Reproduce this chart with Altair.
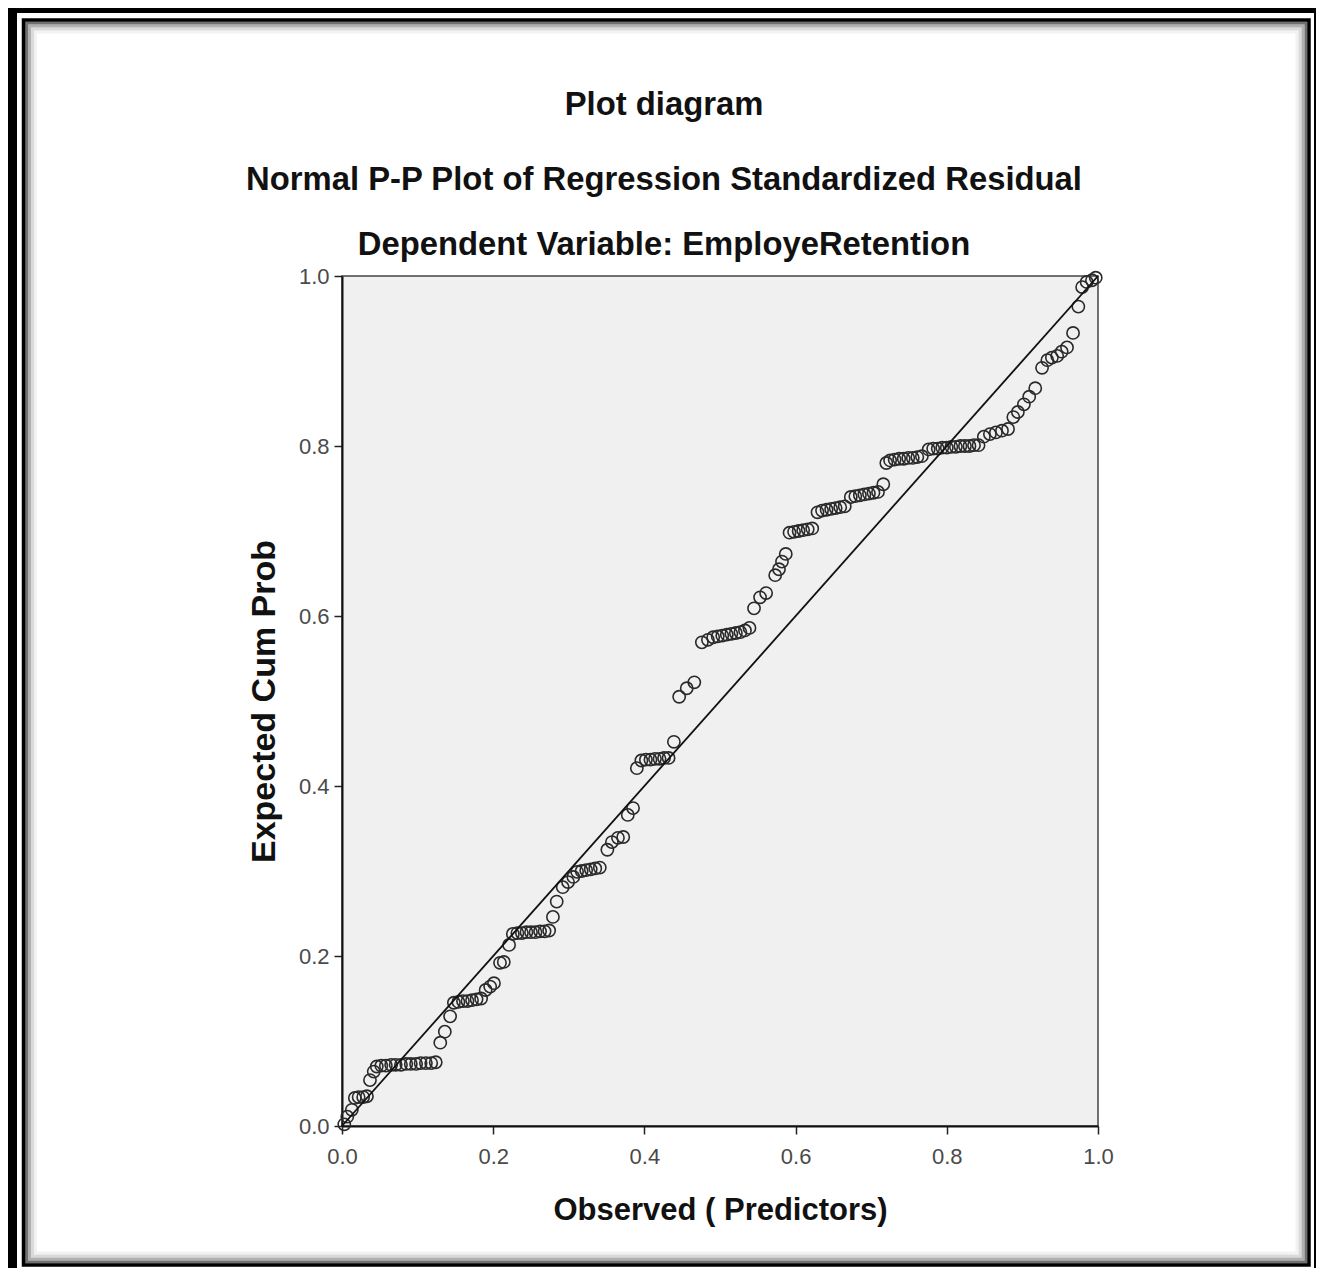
import altair as alt
import pandas as pd

# ---- data ----
observed = [
    0.003, 0.007, 0.013, 0.017, 0.022, 0.028, 0.033, 0.037, 0.042,
    0.046, 0.052, 0.058, 0.065, 0.071, 0.078, 0.085, 0.091, 0.098, 0.104, 0.111, 0.118, 0.124,
    0.130, 0.136, 0.143,
    0.148, 0.154, 0.160, 0.166, 0.172, 0.178, 0.184,
    0.190, 0.196, 0.201, 0.209, 0.214, 0.221,
    0.226, 0.232, 0.238, 0.244, 0.250, 0.256, 0.262, 0.268, 0.274,
    0.279, 0.284, 0.292, 0.299, 0.306,
    0.311, 0.317, 0.323, 0.329, 0.335, 0.341,
    0.351, 0.357, 0.365, 0.372, 0.378, 0.385, 0.390,
    0.396, 0.402, 0.408, 0.414, 0.420, 0.426, 0.432,
    0.439, 0.446, 0.456, 0.466, 0.476, 0.484,
    0.491, 0.497, 0.503, 0.509, 0.515, 0.521, 0.527, 0.533, 0.539,
    0.545, 0.553, 0.561, 0.573, 0.578, 0.582, 0.587,
    0.592, 0.598, 0.604, 0.610, 0.616, 0.622,
    0.629, 0.635, 0.641, 0.647, 0.653, 0.659, 0.665,
    0.673,
    0.679, 0.685, 0.691, 0.697, 0.703, 0.709,
    0.716, 0.720,
    0.725, 0.731, 0.737, 0.743, 0.749, 0.755, 0.761, 0.767,
    0.776, 0.782, 0.788, 0.794, 0.800, 0.806, 0.812, 0.818, 0.824, 0.830, 0.836, 0.842,
    0.849, 0.857, 0.865, 0.873, 0.881,
    0.888, 0.894, 0.902, 0.909, 0.917,
    0.926, 0.933, 0.939, 0.946, 0.952, 0.959, 0.967,
    0.974, 0.979, 0.985, 0.992, 0.997,
]
expected = [
    0.002, 0.011, 0.019, 0.033, 0.034, 0.034, 0.035, 0.054, 0.064,
    0.070, 0.071, 0.071, 0.072, 0.072, 0.072, 0.073, 0.073, 0.073, 0.074, 0.074, 0.074, 0.075,
    0.098, 0.111, 0.129,
    0.145, 0.146, 0.147, 0.147, 0.148, 0.149, 0.150,
    0.160, 0.164, 0.168, 0.192, 0.193, 0.213,
    0.226, 0.227, 0.227, 0.228, 0.228, 0.228, 0.229, 0.229, 0.230,
    0.246, 0.264, 0.281, 0.287, 0.293,
    0.299, 0.300, 0.301, 0.302, 0.303, 0.304,
    0.325, 0.334, 0.339, 0.340, 0.366, 0.374, 0.421,
    0.430, 0.431, 0.431, 0.432, 0.432, 0.433, 0.433,
    0.452, 0.505, 0.515, 0.522, 0.569, 0.572,
    0.575, 0.576, 0.577, 0.578, 0.579, 0.580, 0.581, 0.583, 0.586,
    0.609, 0.622, 0.627, 0.648, 0.655, 0.664, 0.673,
    0.698, 0.699, 0.700, 0.701, 0.702, 0.703,
    0.722, 0.724, 0.725, 0.726, 0.727, 0.728, 0.729,
    0.740,
    0.741, 0.742, 0.743, 0.744, 0.745, 0.746,
    0.755, 0.780,
    0.783, 0.784, 0.785, 0.785, 0.786, 0.786, 0.787, 0.788,
    0.796, 0.797, 0.797, 0.798, 0.798, 0.799, 0.799, 0.800, 0.800, 0.800, 0.801, 0.801,
    0.811, 0.814, 0.816, 0.818, 0.820,
    0.834, 0.840, 0.849, 0.858, 0.868,
    0.892, 0.901, 0.904, 0.906, 0.911, 0.916, 0.933,
    0.964, 0.987, 0.993, 0.995, 0.998,
]
diag_obs = [0.0, 1.0]
diag_exp = [0.0, 1.0]
tick_values = [0.0, 0.2, 0.4, 0.6, 0.8, 1.0]
title_lines = [
    "Plot diagram",
    "Normal P-P Plot of Regression Standardized Residual",
    "Dependent Variable: EmployeRetention",
]
x_title = "Observed ( Predictors)"
y_title = "Expected Cum Prob"

# ---- layout ----
W, H = 756, 850
PAD_L, PAD_T = 334, 268
TOTAL_W, TOTAL_H = 1308, 1260
FONT = "Liberation Sans, Arial, Helvetica, sans-serif"

pts = pd.DataFrame({"obs": observed, "exp": expected})
diag = pd.DataFrame({"obs": diag_obs, "exp": diag_exp})
one = pd.DataFrame({"k": [0]})

xs = alt.Scale(domain=[0, 1], nice=False, zero=False)
ys = alt.Scale(domain=[0, 1], nice=False, zero=False)

x_axis = alt.Axis(
    values=tick_values, format=".1f", title=x_title, grid=False,
    tickSize=8, tickColor="#222", tickWidth=1.5,
    domainColor="#111", domainWidth=2,
    labelFont=FONT, labelFontSize=22, labelColor="#4a4a4a", labelPadding=12,
    labelFlush=False,
    titleFont=FONT, titleFontSize=31, titleFontWeight="bold", titleColor="#111",
    titleY=84, titleBaseline="middle",
)
y_axis = alt.Axis(
    values=tick_values, format=".1f", title=y_title, grid=False,
    tickSize=8, tickColor="#222", tickWidth=1.5,
    domainColor="#111", domainWidth=2,
    labelFont=FONT, labelFontSize=22, labelColor="#4a4a4a", labelPadding=5,
    labelFlush=False,
    titleFont=FONT, titleFontSize=34, titleFontWeight="bold", titleColor="#111",
    titleX=-78, titleY=H / 2, titleAngle=270, titleBaseline="middle", titleAlign="center",
)

points = alt.Chart(pts).mark_point(
    shape="circle", filled=False, size=150, stroke="#2a2a2a", strokeWidth=1.6, opacity=1
).encode(
    x=alt.X("obs:Q", scale=xs, axis=x_axis),
    y=alt.Y("exp:Q", scale=ys, axis=y_axis),
)

ref_line = alt.Chart(diag).mark_line(color="#111", strokeWidth=1.8).encode(
    x=alt.X("obs:Q", scale=xs),
    y=alt.Y("exp:Q", scale=ys),
)


def rel_x(v):
    return v - PAD_L


def rel_y(v):
    return v - PAD_T


def band(x0, x1, y0, y1, color):
    return alt.Chart(one).mark_rect(fill=color, strokeWidth=0).encode(
        x=alt.value(rel_x(x0)), x2=alt.value(rel_x(x1)),
        y=alt.value(rel_y(y0)), y2=alt.value(rel_y(y1)),
    )


def outline(inset, color, width):
    return alt.Chart(one).mark_rect(filled=False, stroke=color, strokeWidth=width).encode(
        x=alt.value(rel_x(15.5 + inset)), x2=alt.value(rel_x(1301 - inset)),
        y=alt.value(rel_y(12 + inset)), y2=alt.value(rel_y(1257 - inset)),
    )


frame = [
    band(0, 9, 0, TOTAL_H, "#000"),
    band(0, TOTAL_W, 0, 5, "#000"),
    band(TOTAL_W - 2, TOTAL_W, 0, TOTAL_H, "#000"),
    outline(12, "#f2f2f2", 3),
    outline(9, "#dadada", 3),
    outline(6, "#b0b0b0", 3),
    outline(3, "#707070", 3),
    outline(0, "#000", 3.5),
]

title_y = [97, 172, 237]
titles = [
    alt.Chart(one).mark_text(
        text=t, font=FONT, fontSize=32.8, fontWeight="bold", color="#111",
        align="center", baseline="middle",
    ).encode(x=alt.value(rel_x(656)), y=alt.value(rel_y(ty)))
    for t, ty in zip(title_lines, title_y)
]

chart = alt.layer(*frame, points, ref_line, *titles).properties(
    width=W, height=H,
    padding={"left": PAD_L, "top": PAD_T, "right": TOTAL_W - PAD_L - W, "bottom": TOTAL_H - PAD_T - H},
    autosize=alt.AutoSizeParams(type="none"),
    background="white",
).configure_view(
    fill="#f0f0f0", stroke="#444", strokeWidth=1.5,
)

chart.save("out.html", embed_options={"renderer": "svg", "actions": False})
